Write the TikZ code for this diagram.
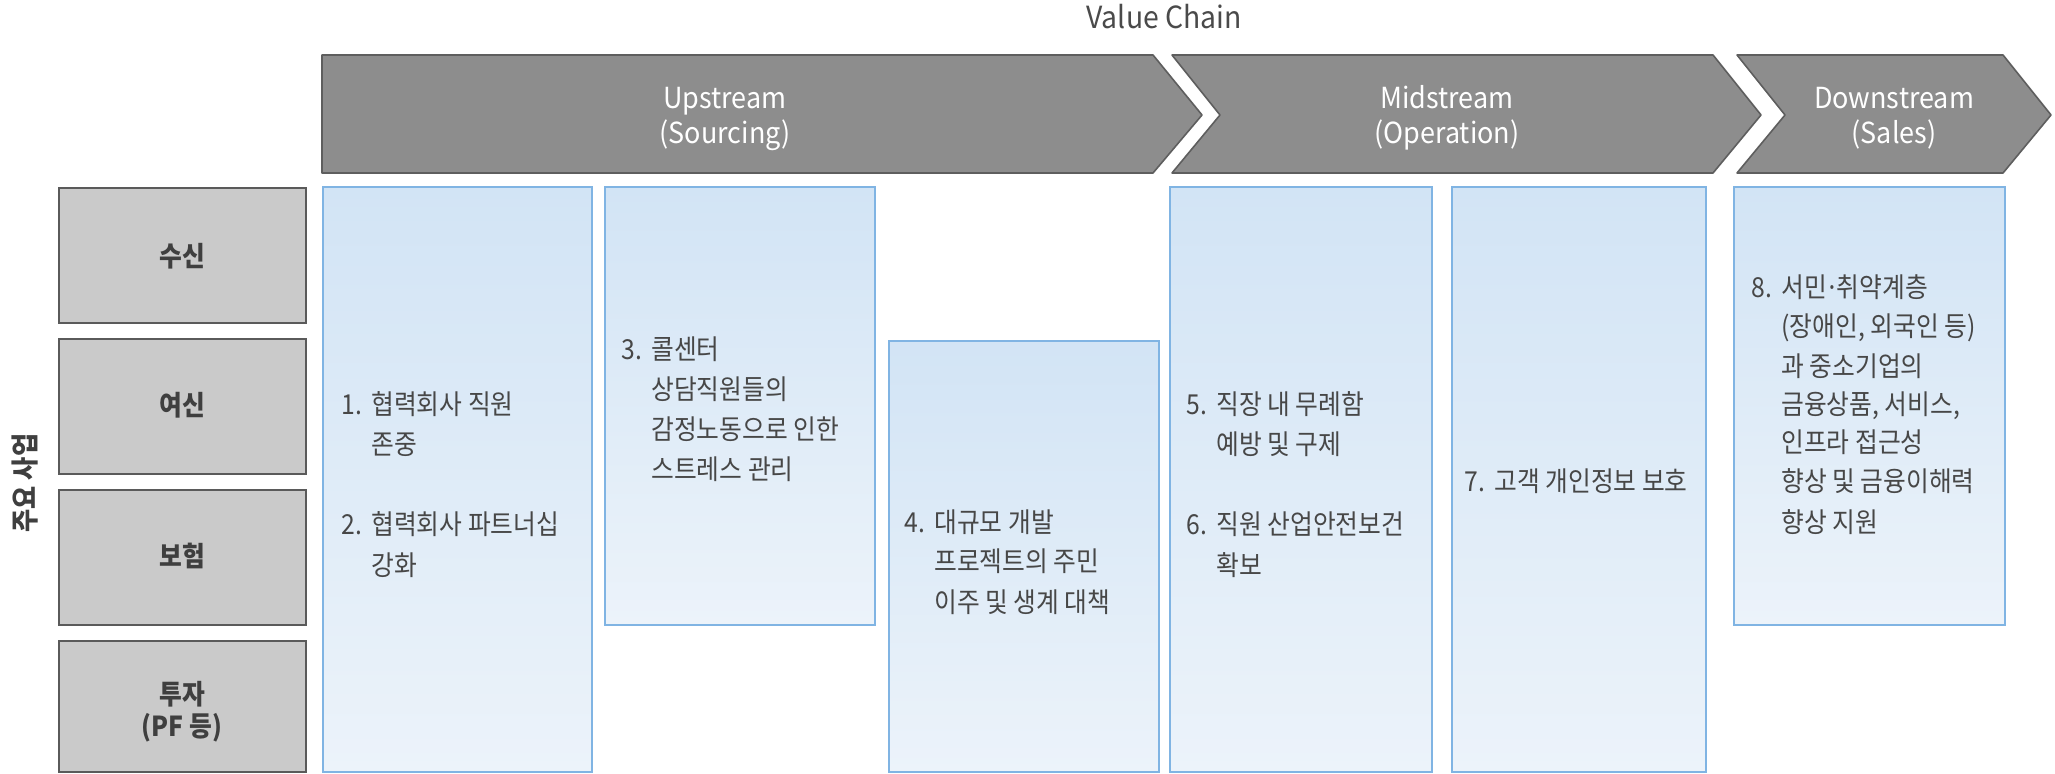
\documentclass[tikz,border=0pt]{standalone}
\usepackage{fontspec}
\newfontfamily\kr[FakeStretch=0.9]{Noto Sans CJK KR}
\newfontfamily\krlat[FakeStretch=0.93]{Noto Sans CJK KR}
\definecolor{chevfill}{HTML}{8D8D8D}
\definecolor{chevline}{HTML}{5E5E5E}
\definecolor{gbfill}{HTML}{CACACA}
\definecolor{gbline}{HTML}{5A5A5A}
\definecolor{lbltxt}{HTML}{3F3F3F}
\definecolor{bodytxt}{HTML}{474747}
\definecolor{bbtop}{HTML}{D2E4F5}
\definecolor{bbbot}{HTML}{ECF3FA}
\definecolor{bbline}{HTML}{80B4E3}
\definecolor{titletxt}{HTML}{4A4A4A}
\newcommand\numlbl[1]{\makebox[15pt][l]{#1}}
\newcommand\middot{\makebox[5pt][c]{·}}
\begin{document}
\begin{tikzpicture}[x=0.5pt,y=-0.5pt,
  chev/.style={draw=chevline, line width=0.8pt, fill=chevfill, line join=round},
  greybox/.style={draw=gbline, line width=0.8pt, fill=gbfill},
  bluebox/.style={draw=bbline, line width=0.8pt, top color=bbtop, bottom color=bbbot},
  body/.style={font=\kr\fontsize{13.75}{20}\selectfont, text=bodytxt, inner sep=0pt, anchor=base west},
  lbl/.style={font=\kr\bfseries\fontsize{13.75}{16}\selectfont, text=lbltxt, inner sep=0pt, anchor=base},
  chevtxt/.style={font=\krlat\fontsize{14.5}{17.5}\selectfont, text=white, inner sep=0pt, anchor=base},
  title/.style={font=\krlat\fontsize{15.25}{18}\selectfont, text=titletxt, inner sep=0pt, anchor=base}]
\useasboundingbox (0,0) rectangle (2055,774);
\fill[white] (0,0) rectangle (2055,774);

% title
\node[title] (vc) at (1164,29) {Value Chain};

% chevrons
\draw[chev] (322,55) -- (1153,55) -- (1202,115) -- (1153,173) -- (322,173) -- cycle;
\draw[chev] (1172,55) -- (1713,55) -- (1761,115) -- (1713,173) -- (1172,173) -- (1220,115) -- cycle;
\draw[chev] (1737,55) -- (2003,55) -- (2051,115) -- (2003,173) -- (1737,173) -- (1785,115) -- cycle;
\node[chevtxt] (up1) at (725,109) {Upstream};
\node[chevtxt] (up2) at (725,144) {(Sourcing)};
\node[chevtxt] (mid1) at (1447,109) {Midstream};
\node[chevtxt] (mid2) at (1447,144) {(Operation)};
\node[chevtxt] (dn1) at (1894,109) {Downstream};
\node[chevtxt] (dn2) at (1894,144) {(Sales)};

% row labels
\node[font=\kr\bfseries\fontsize{14}{16}\selectfont, text=lbltxt, rotate=90, inner sep=0pt] (biz) at (25,483) {주요 사업};
\draw[greybox] (59,188) rectangle (306,323);
\draw[greybox] (59,339) rectangle (306,474);
\draw[greybox] (59,490) rectangle (306,625);
\draw[greybox] (59,641) rectangle (306,772);
\node[lbl] (r1) at (182,267) {수신};
\node[lbl] (r2) at (182,416) {여신};
\node[lbl] (r3) at (182,567) {보험};
\node[lbl] (r4a) at (182,704) {투자};
\node[lbl] (r4b) at (182,736) {(PF 등)};

% blue boxes
\draw[bluebox] (323,187) rectangle (592,772);
\draw[bluebox] (605,187) rectangle (875,625);
\draw[bluebox] (889,341) rectangle (1159,772);
\draw[bluebox] (1170,187) rectangle (1432,772);
\draw[bluebox] (1452,187) rectangle (1706,772);
\draw[bluebox] (1734,187) rectangle (2005,625);

% box 1
\node[body] (t1a) at (341,415) {\numlbl{1.}협력회사 직원};
\node[body] (t1b) at (371,455) {존중};
\node[body] (t2a) at (341,535) {\numlbl{2.}협력회사 파트너십};
\node[body] (t2b) at (371,575) {강화};
% box 2
\node[body] (t3a) at (621,360) {\numlbl{3.}콜센터};
\node[body] (t3b) at (651,400) {상담직원들의};
\node[body] (t3c) at (651,440) {감정노동으로 인한};
\node[body] (t3d) at (651,480) {스트레스 관리};
% box 3
\node[body] (t4a) at (904,532) {\numlbl{4.}대규모 개발};
\node[body] (t4b) at (934,572) {프로젝트의 주민};
\node[body] (t4c) at (934,612) {이주 및 생계 대책};
% box 4
\node[body] (t5a) at (1186,415) {\numlbl{5.}직장 내 무례함};
\node[body] (t5b) at (1216,455) {예방 및 구제};
\node[body] (t6a) at (1186,535) {\numlbl{6.}직원 산업안전보건};
\node[body] (t6b) at (1216,575) {확보};
% box 5
\node[body] (t7a) at (1464,492) {\numlbl{7.}고객 개인정보 보호};
% box 6
\node[body] (t8a) at (1751,298) {\numlbl{8.}서민\middot 취약계층};
\node[body] (t8b) at (1781,337) {(장애인, 외국인 등)};
\node[body] (t8c) at (1781,377) {과 중소기업의};
\node[body] (t8d) at (1781,415) {금융상품, 서비스,};
\node[body] (t8e) at (1781,453) {인프라 접근성};
\node[body] (t8f) at (1781,492) {향상 및 금융이해력};
\node[body] (t8g) at (1781,532) {향상 지원};
\end{tikzpicture}
\end{document}
